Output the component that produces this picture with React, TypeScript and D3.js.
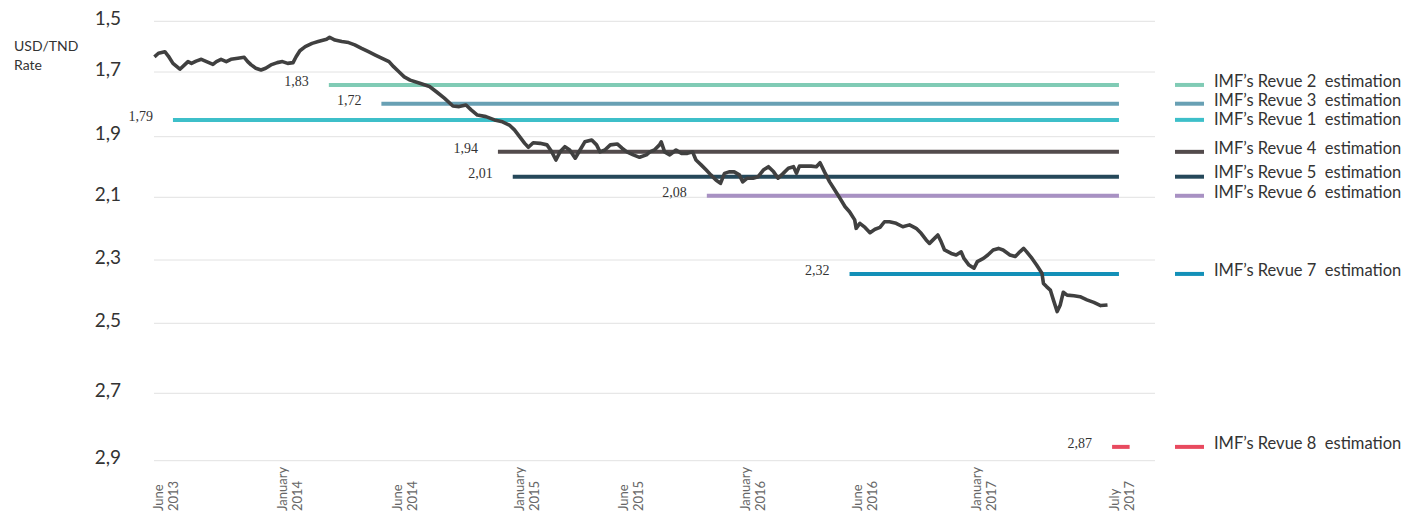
import React, { useEffect, useRef } from 'react';
import * as d3 from 'd3';

// x axis: tick dates and their two-line labels
const tickDates = ['2013-06-01', '2014-01-01', '2014-06-01', '2015-01-01', '2015-06-01', '2016-01-01', '2016-06-01', '2017-01-01', '2017-07-01'];
const tickMonths = ['June', 'January', 'June', 'January', 'June', 'January', 'June', 'January', 'July'];
const tickYears = ['2013', '2014', '2014', '2015', '2015', '2016', '2016', '2017', '2017'];

// y axis ticks (rate, inverted)
const rateTicks = [1.5, 1.7, 1.9, 2.1, 2.3, 2.5, 2.7, 2.9];

// USD/TND rate
const usdTnd: [string, number][] = [
  ['2013-05-12', 1.640], ['2013-05-19', 1.626], ['2013-05-30', 1.620], ['2013-06-05', 1.637],
  ['2013-06-13', 1.666], ['2013-06-25', 1.689], ['2013-07-03', 1.672], ['2013-07-09', 1.659],
  ['2013-07-15', 1.666], ['2013-07-23', 1.657], ['2013-08-01', 1.650], ['2013-08-10', 1.659],
  ['2013-08-21', 1.670], ['2013-08-27', 1.659], ['2013-09-04', 1.650], ['2013-09-13', 1.659],
  ['2013-09-21', 1.650], ['2013-10-03', 1.646], ['2013-10-14', 1.642], ['2013-10-20', 1.659],
  ['2013-10-26', 1.672], ['2013-11-03', 1.685], ['2013-11-12', 1.692], ['2013-11-20', 1.685],
  ['2013-11-29', 1.672], ['2013-12-10', 1.663], ['2013-12-19', 1.659], ['2013-12-28', 1.666],
  ['2014-01-05', 1.663], ['2014-01-09', 1.640], ['2014-01-14', 1.616], ['2014-01-21', 1.600],
  ['2014-01-30', 1.587], ['2014-02-07', 1.580], ['2014-02-18', 1.571], ['2014-02-22', 1.563],
  ['2014-03-01', 1.574], ['2014-03-10', 1.580], ['2014-03-19', 1.584], ['2014-03-27', 1.593],
  ['2014-04-05', 1.607], ['2014-04-14', 1.620], ['2014-04-23', 1.633], ['2014-05-02', 1.646],
  ['2014-05-11', 1.659], ['2014-05-17', 1.679], ['2014-05-24', 1.699], ['2014-05-31', 1.715],
  ['2014-06-10', 1.725], ['2014-06-27', 1.735], ['2014-07-14', 1.745], ['2014-07-26', 1.761],
  ['2014-08-09', 1.781], ['2014-08-24', 1.805], ['2014-09-04', 1.807], ['2014-09-16', 1.802],
  ['2014-09-25', 1.817], ['2014-10-06', 1.833], ['2014-10-21', 1.838], ['2014-11-05', 1.848],
  ['2014-11-19', 1.854], ['2014-12-01', 1.864], ['2014-12-10', 1.879], ['2014-12-19', 1.900],
  ['2014-12-28', 1.922], ['2015-01-03', 1.935], ['2015-01-10', 1.920], ['2015-01-20', 1.922],
  ['2015-01-30', 1.927], ['2015-02-06', 1.950], ['2015-02-12', 1.977], ['2015-02-18', 1.950],
  ['2015-02-25', 1.933], ['2015-03-04', 1.944], ['2015-03-12', 1.971], ['2015-03-19', 1.944],
  ['2015-03-26', 1.917], ['2015-04-05', 1.911], ['2015-04-12', 1.927], ['2015-04-17', 1.950],
  ['2015-04-24', 1.944], ['2015-05-02', 1.927], ['2015-05-12', 1.924], ['2015-05-19', 1.938],
  ['2015-05-26', 1.950], ['2015-06-05', 1.960], ['2015-06-16', 1.968], ['2015-06-28', 1.960],
  ['2015-07-04', 1.950], ['2015-07-12', 1.944], ['2015-07-21', 1.927], ['2015-07-24', 1.917],
  ['2015-07-30', 1.950], ['2015-08-08', 1.960], ['2015-08-19', 1.944], ['2015-08-28', 1.955],
  ['2015-09-08', 1.955], ['2015-09-17', 1.950], ['2015-09-23', 1.977], ['2015-10-02', 1.993],
  ['2015-10-11', 2.010], ['2015-10-19', 2.026], ['2015-10-28', 2.043], ['2015-11-05', 2.054],
  ['2015-11-12', 2.021], ['2015-11-20', 2.016], ['2015-11-29', 2.016], ['2015-12-08', 2.026],
  ['2015-12-14', 2.049], ['2015-12-22', 2.037], ['2016-01-01', 2.037], ['2016-01-08', 2.032],
  ['2016-01-15', 2.010], ['2016-01-22', 1.999], ['2016-01-29', 2.016], ['2016-02-04', 2.037],
  ['2016-02-11', 2.021], ['2016-02-18', 2.004], ['2016-02-25', 1.999], ['2016-02-29', 2.021],
  ['2016-03-04', 1.997], ['2016-03-11', 1.997], ['2016-03-20', 1.997], ['2016-03-27', 1.999],
  ['2016-04-01', 1.986], ['2016-04-07', 2.016], ['2016-04-14', 2.049], ['2016-04-21', 2.076],
  ['2016-04-28', 2.103], ['2016-05-05', 2.130], ['2016-05-11', 2.146], ['2016-05-18', 2.172],
  ['2016-05-20', 2.199], ['2016-05-25', 2.183], ['2016-06-01', 2.196], ['2016-06-10', 2.213],
  ['2016-06-19', 2.202], ['2016-06-28', 2.196], ['2016-07-06', 2.178], ['2016-07-15', 2.178],
  ['2016-07-27', 2.183], ['2016-08-08', 2.194], ['2016-08-20', 2.188], ['2016-09-01', 2.199],
  ['2016-09-10', 2.215], ['2016-09-19', 2.236], ['2016-09-25', 2.247], ['2016-10-04', 2.231],
  ['2016-10-10', 2.220], ['2016-10-16', 2.242], ['2016-10-22', 2.268], ['2016-11-03', 2.279],
  ['2016-11-12', 2.284], ['2016-11-21', 2.274], ['2016-11-26', 2.295], ['2016-12-05', 2.316],
  ['2016-12-14', 2.326], ['2016-12-20', 2.305], ['2016-12-31', 2.295], ['2017-01-06', 2.284],
  ['2017-01-13', 2.268], ['2017-01-20', 2.263], ['2017-01-26', 2.268], ['2017-02-04', 2.284],
  ['2017-02-11', 2.289], ['2017-02-17', 2.274], ['2017-02-22', 2.263], ['2017-02-26', 2.274],
  ['2017-03-05', 2.295], ['2017-03-11', 2.316], ['2017-03-18', 2.342], ['2017-03-20', 2.374],
  ['2017-03-24', 2.384], ['2017-03-29', 2.395], ['2017-04-02', 2.426], ['2017-04-07', 2.463],
  ['2017-04-11', 2.442], ['2017-04-15', 2.402], ['2017-04-20', 2.411], ['2017-04-29', 2.413],
  ['2017-05-07', 2.416], ['2017-05-16', 2.426], ['2017-05-25', 2.434], ['2017-06-03', 2.444],
  ['2017-06-12', 2.442],
];

// IMF review estimations (Revue 1..8)
const revueNames = ['Revue 1', 'Revue 2', 'Revue 3', 'Revue 4', 'Revue 5', 'Revue 6', 'Revue 7', 'Revue 8'];
const estimationLabels = ['1,79', '1,83', '1,72', '1,94', '2,01', '2,08', '2,32', '2,87'];
const estimationLevels = [1.848, 1.740, 1.798, 1.950, 2.032, 2.095, 2.344, 2.859];
const estimationStart = ['2013-06-13', '2014-02-21', '2014-05-01', '2014-11-11', '2014-12-07', '2015-10-12', '2016-05-11', '2017-06-18'];
const estimationEnd = ['2017-06-27', '2017-06-27', '2017-06-27', '2017-06-27', '2017-06-27', '2017-06-27', '2017-06-27', '2017-07-11'];

const revueColors = ['#3dbfc9', '#80cbb5', '#68a0b4', '#534b4c', '#25485a', '#a891c3', '#1390b8', '#e84a5f'];

const parse = d3.timeParse('%Y-%m-%d');

const App = () => {
  const svgRef = useRef<SVGSVGElement>(null);

  useEffect(() => {
    document.body.style.margin = '0';
    const svg = d3.select(svgRef.current);
    svg.selectAll('*').remove();

    const sans = 'Lato, "Open Sans", sans-serif';
    const serif = '"Liberation Serif", "DejaVu Serif", serif';

    // piecewise scales: the source chart is not evenly spaced
    const x = d3.scaleTime()
      .domain(tickDates.map(d => parse(d) as Date))
      .range([166, 290, 405, 527, 631, 753, 865, 984, 1122]);
    const y = d3.scaleLinear()
      .domain(rateTicks)
      .range([21.3, 72, 136.7, 197.3, 260, 323.3, 393.3, 460.7]);

    // gridlines
    svg.append('g')
      .selectAll('line')
      .data(rateTicks)
      .enter()
      .append('line')
      .attr('x1', 154)
      .attr('x2', 1155)
      .attr('y1', d => y(d))
      .attr('y2', d => y(d))
      .attr('stroke', '#e2e2e2')
      .attr('stroke-width', 1);

    // y tick labels
    svg.append('g')
      .selectAll('text')
      .data(rateTicks)
      .enter()
      .append('text')
      .attr('x', 121)
      .attr('y', d => y(d) - 3)
      .attr('dy', '0.35em')
      .attr('text-anchor', 'end')
      .attr('font-family', sans)
      .attr('font-size', 19)
      .attr('fill', '#333')
      .text(d => d3.format('.1f')(d).replace('.', ','));

    // y title
    const title = svg.append('text')
      .attr('font-family', sans)
      .attr('font-size', 14)
      .attr('fill', '#333');
    title.append('tspan').attr('x', 14).attr('y', 51).text('USD/TND');
    title.append('tspan').attr('x', 14).attr('y', 70).text('Rate');

    // x tick labels, rotated
    const xt = svg.append('g')
      .selectAll('g')
      .data(tickDates)
      .enter()
      .append('g')
      .attr('transform', d => `translate(${x(parse(d) as Date)},511) rotate(-90)`);
    xt.append('text')
      .attr('y', -7.5)
      .attr('dy', '0.35em')
      .attr('font-family', sans)
      .attr('font-size', 13)
      .attr('fill', '#666')
      .text((d, i) => tickMonths[i]);
    xt.append('text')
      .attr('y', 7.5)
      .attr('dy', '0.35em')
      .attr('font-family', sans)
      .attr('font-size', 13)
      .attr('fill', '#666')
      .text((d, i) => tickYears[i]);

    // estimation lines
    const est = revueNames.map((name, i) => ({
      name,
      label: estimationLabels[i],
      level: estimationLevels[i],
      start: parse(estimationStart[i]) as Date,
      end: parse(estimationEnd[i]) as Date,
      color: revueColors[i],
    }));

    svg.append('g')
      .selectAll('line')
      .data(est)
      .enter()
      .append('line')
      .attr('x1', d => x(d.start))
      .attr('x2', d => x(d.end))
      .attr('y1', d => y(d.level))
      .attr('y2', d => y(d.level))
      .attr('stroke', d => d.color)
      .attr('stroke-width', 4);

    svg.append('g')
      .selectAll('text')
      .data(est)
      .enter()
      .append('text')
      .attr('x', d => x(d.start) - 20)
      .attr('y', d => y(d.level) - 3.5)
      .attr('dy', '0.35em')
      .attr('text-anchor', 'end')
      .attr('font-family', serif)
      .attr('font-size', 14)
      .attr('fill', '#333')
      .text(d => d.label);

    // rate line
    const line = d3.line<[string, number]>()
      .x(d => x(parse(d[0]) as Date))
      .y(d => y(d[1]))
      .curve(d3.curveLinear);

    svg.append('path')
      .datum(usdTnd)
      .attr('d', line)
      .attr('fill', 'none')
      .attr('stroke', '#404040')
      .attr('stroke-width', 3.6)
      .attr('stroke-linejoin', 'round');

    // legend: swatch sits on the estimation level, text pushed down if crowded
    const sorted = [...est].sort((a, b) => a.level - b.level);
    const textY = new Map<string, number>();
    let prev = -Infinity;
    sorted.forEach(d => {
      const ty = Math.max(y(d.level) - 4, prev + 19);
      textY.set(d.name, ty);
      prev = ty;
    });

    const lg = svg.append('g')
      .selectAll('g')
      .data(est)
      .enter()
      .append('g');
    lg.append('line')
      .attr('x1', 1175)
      .attr('x2', 1204)
      .attr('y1', d => y(d.level))
      .attr('y2', d => y(d.level))
      .attr('stroke', d => d.color)
      .attr('stroke-width', 4);
    lg.append('text')
      .attr('x', 1214)
      .attr('y', d => textY.get(d.name) as number)
      .attr('dy', '0.35em')
      .attr('font-family', sans)
      .attr('font-size', 16.5)
      .attr('fill', '#333')
      .style('white-space', 'pre')
      .text(d => `IMF’s ${d.name}  estimation`);
  }, []);

  return <svg ref={svgRef} width={1425} height={517} style={{ display: 'block' }} aria-label="USD/TND rate and IMF estimations" />;
};

export default App;
